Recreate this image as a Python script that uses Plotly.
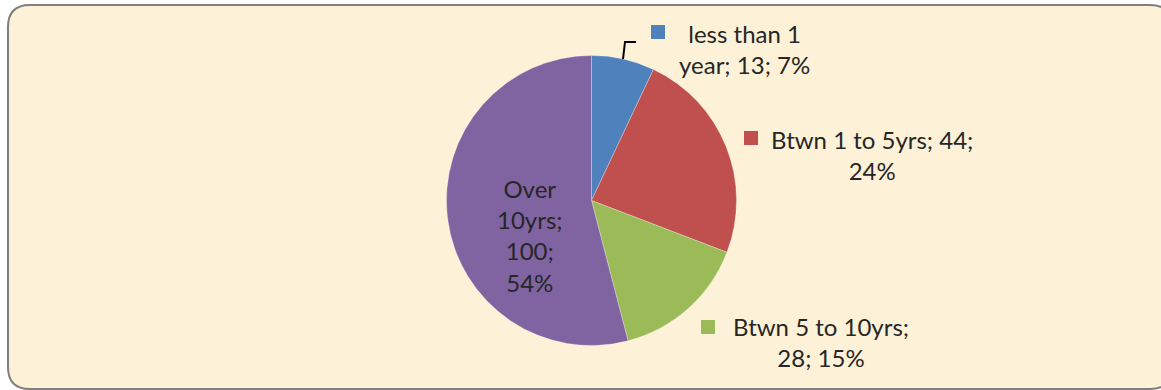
import plotly.graph_objects as go

# ---- data ----
categories = ["less than 1 year", "Btwn 1 to 5yrs", "Btwn 5 to 10yrs", "Over 10yrs"]
values = [13, 44, 28, 100]
colors = ["#4F81BD", "#C0504D", "#9BBB59", "#8064A2"]
# word index after which a line break is placed in each data label
label_breaks = [[3], [5], [4], [1, 2, 3]]

W, H = 1161, 390
total = sum(values)
percents = [round(v / total * 100) for v in values]


def px(x):
    return x / W


def py(y):
    return 1 - y / H


def make_label(cat, val, pct, breaks):
    words = f"{cat}; {val}; {pct}%".split(" ")
    out = ""
    for i, w in enumerate(words):
        out += w
        if i < len(words) - 1:
            out += "<br>" if (i + 1) in breaks else " "
    return out


labels = [make_label(c, v, p, b) for c, v, p, b in zip(categories, values, percents, label_breaks)]

fig = go.Figure()

# pie geometry (pixels)
cx, cy, r = 591.5, 200.5, 145
fig.add_trace(go.Pie(
    labels=categories,
    values=values,
    sort=False,
    direction="clockwise",
    rotation=0,
    marker=dict(colors=colors, line=dict(color="rgba(255,255,255,0.35)", width=0.8)),
    textinfo="none",
    hoverinfo="label+value+percent",
    showlegend=False,
    domain=dict(x=[px(cx - r), px(cx + r)], y=[py(cy + r), py(cy - r)]),
))

shapes = []
# rounded background frame
x0, y0, x1, y1, rr = 8, 5, 1172, 389, 22
path = (
    f"M {px(x0 + rr)},{py(y0)} L {px(x1 - rr)},{py(y0)} "
    f"Q {px(x1)},{py(y0)} {px(x1)},{py(y0 + rr)} "
    f"L {px(x1)},{py(y1 - rr)} Q {px(x1)},{py(y1)} {px(x1 - rr)},{py(y1)} "
    f"L {px(x0 + rr)},{py(y1)} Q {px(x0)},{py(y1)} {px(x0)},{py(y1 - rr)} "
    f"L {px(x0)},{py(y0 + rr)} Q {px(x0)},{py(y0)} {px(x0 + rr)},{py(y0)} Z"
)
shapes.append(dict(type="path", xref="paper", yref="paper", path=path,
                   fillcolor="#FDF2D8", line=dict(color="#7F7F7F", width=2), layer="below"))

# leader line for the small slice
shapes.append(dict(type="path", xref="paper", yref="paper",
                   path=f"M {px(623)},{py(59)} L {px(625)},{py(42)} L {px(636)},{py(42)}",
                   line=dict(color="#000000", width=2)))

# label positions (pixels): text block centre, legend-key centre
text_pos = [(744, 49), (872, 155), (821, 342), (530, 236)]
key_pos = [(658, 32), (751, 138), (708, 327), None]
ks = 7

annotations = []
for i, lab in enumerate(labels):
    tx, ty = text_pos[i]
    annotations.append(dict(
        x=px(tx), y=py(ty), xref="paper", yref="paper",
        text=lab, showarrow=False, xanchor="center", yanchor="middle",
        align="center", font=dict(family="Lato", size=24, color="#262626"),
    ))
    if key_pos[i] is not None:
        kx, ky = key_pos[i]
        shapes.append(dict(type="rect", xref="paper", yref="paper",
                           x0=px(kx - ks), x1=px(kx + ks), y0=py(ky + ks), y1=py(ky - ks),
                           fillcolor=colors[i], line=dict(width=0)))

fig.update_layout(
    width=W, height=H,
    margin=dict(l=0, r=0, t=0, b=0),
    paper_bgcolor="white",
    plot_bgcolor="white",
    shapes=shapes,
    annotations=annotations,
)

fig.write_html("out.html")
